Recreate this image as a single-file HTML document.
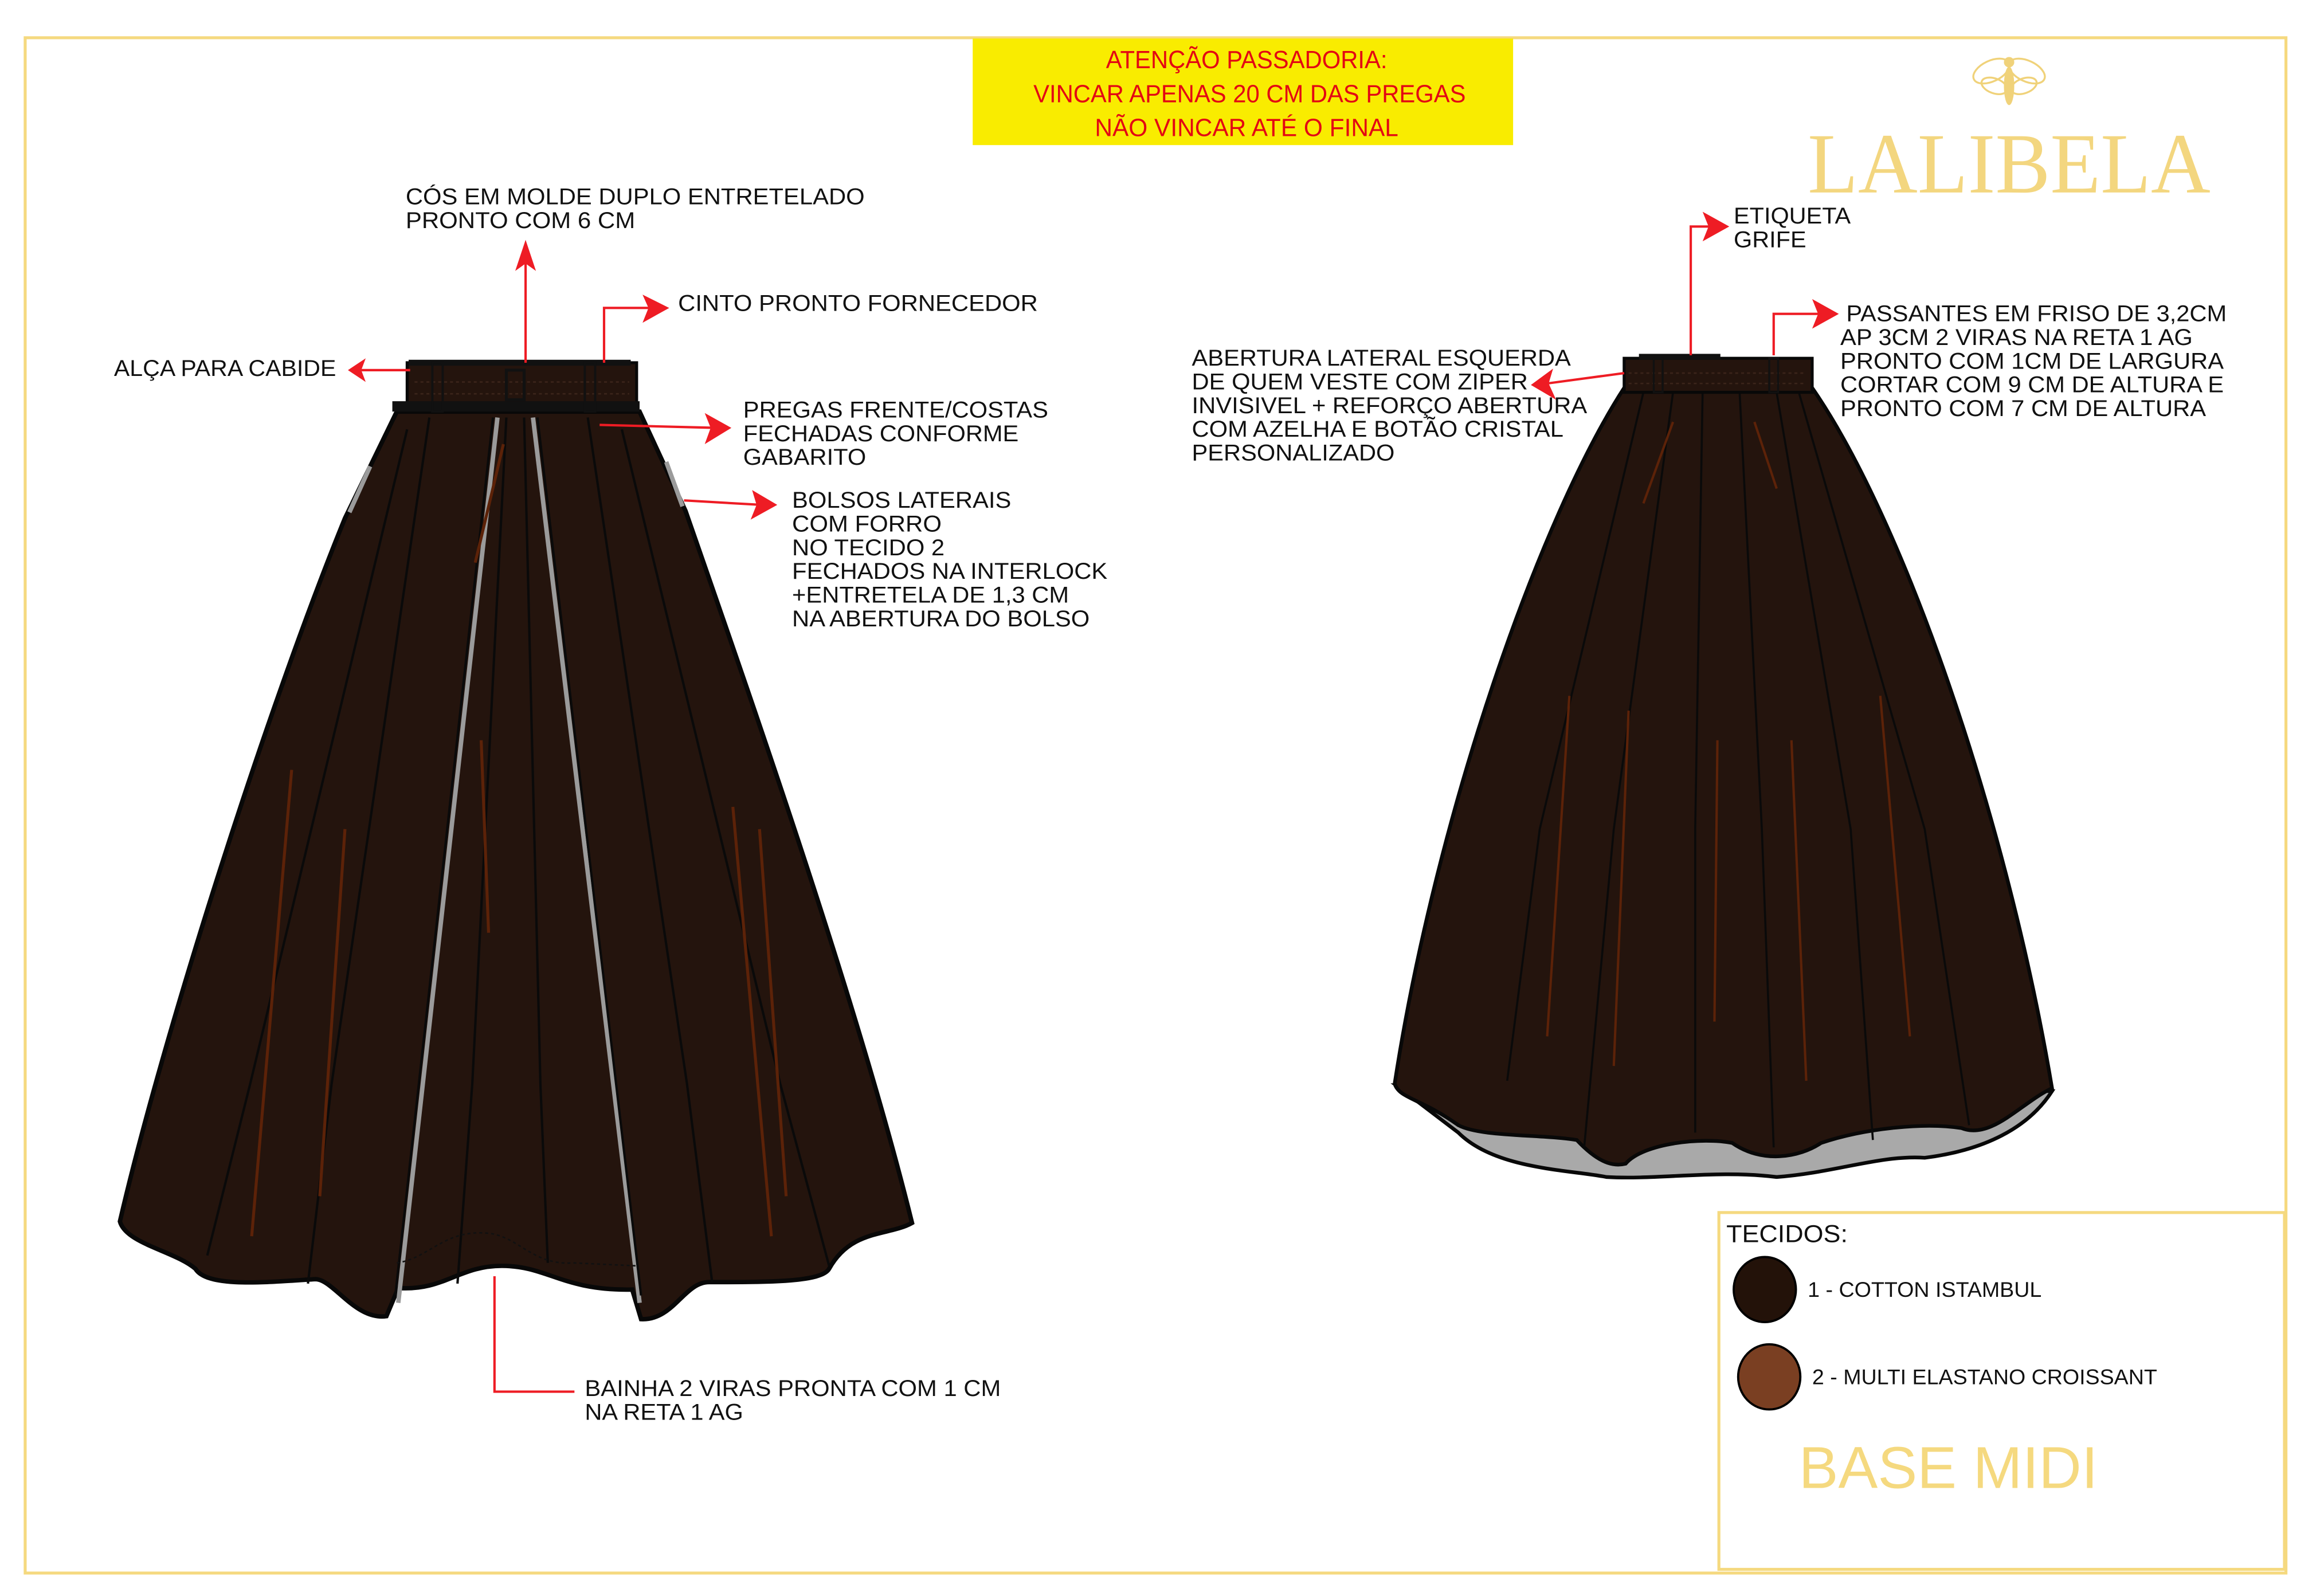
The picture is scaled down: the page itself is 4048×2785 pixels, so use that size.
<!DOCTYPE html>
<html><head><meta charset="utf-8"><style>html,body{margin:0;padding:0;background:#fff}svg{display:block}text{font-family:"Liberation Sans",sans-serif}</style></head>
<body>
<svg width="4048" height="2785" viewBox="0 0 1567 1078" preserveAspectRatio="none" xmlns="http://www.w3.org/2000/svg">
<rect x="0" y="0" width="1567" height="1078" fill="#fff"/>
<rect x="17" y="25.5" width="1527" height="1037" fill="none" stroke="#f5d97f" stroke-width="2"/>
<rect x="1161" y="819" width="382" height="241" fill="none" stroke="#f5d97f" stroke-width="2"/>
<!-- yellow box -->
<rect x="657" y="26" width="365" height="72" fill="#f9ec00"/>
<g fill="#e30613" font-size="17" text-anchor="middle">
<text x="842" y="46" textLength="190" lengthAdjust="spacingAndGlyphs">ATENÇÃO PASSADORIA:</text>
<text x="844" y="69" textLength="292" lengthAdjust="spacingAndGlyphs">VINCAR APENAS 20 CM DAS PREGAS</text>
<text x="842" y="92" textLength="205" lengthAdjust="spacingAndGlyphs">NÃO VINCAR ATÉ O FINAL</text>
</g>
<!-- logo -->
<g fill="none" stroke="#f0d27a" stroke-width="1.3">
<ellipse cx="1345" cy="48" rx="13" ry="7" transform="rotate(-25 1345 48)"/>
<ellipse cx="1369" cy="48" rx="13" ry="7" transform="rotate(25 1369 48)"/>
<ellipse cx="1347" cy="58" rx="9" ry="5" transform="rotate(20 1347 58)"/><ellipse cx="1367" cy="58" rx="9" ry="5" transform="rotate(-20 1367 58)"/>
</g>
<ellipse cx="1357" cy="58" rx="3.5" ry="13" fill="#f0d27a"/>
<circle cx="1357" cy="42" r="3.5" fill="#f0d27a"/>
<text x="1357" y="130" font-size="58" fill="#f3d67f" text-anchor="middle" textLength="272" lengthAdjust="spacingAndGlyphs" style="font-family:'Liberation Serif',serif">LALIBELA</text>

<!-- LEFT SKIRT -->
<path d="M268,278 L233,350 C180,480 110,700 81,825 C85,840 118,845 132,857 C140,870 180,866 213,864 C225,864 240,892 261,889 L269,870 C300,872 310,855 339,855 C370,855 380,872 427,871 L433,891 C455,892 462,866 479,866 C520,866 555,866 560,857 C575,830 600,835 616,826 C580,680 510,480 463,345 L432,278 Z" fill="#24140d" stroke="#080808" stroke-width="3"/>
<g stroke="#9b9b9b" stroke-width="3" fill="none">
<path d="M336,282 L269,880"/><path d="M360,282 L432,880"/>
<path d="M250,315 L236,346"/><path d="M450,312 L461,342"/>
</g>
<g stroke="#0a0a0a" stroke-width="1.6" fill="none">
<path d="M333,282 L267,875"/><path d="M363,282 L433,875"/>
<path d="M290,282 L224,732 L208,867"/><path d="M275,290 L169,732 L140,848"/>
<path d="M397,282 L464,732 L481,866"/><path d="M420,290 L527,732 L560,855"/>
<path d="M342,282 L319,732 L309,867"/><path d="M354,282 L365,732 L370,853"/>
</g>
<path d="M268,853 C290,850 300,830 330,833 C350,835 360,855 387,853 L430,855" fill="none" stroke="#111" stroke-width="1" stroke-dasharray="2,2"/>
<g stroke="#5c2208" stroke-width="2" fill="none">
<path d="M197,520 L170,835"/><path d="M233,560 L216,808"/><path d="M340,300 L321,380"/>
<path d="M495,545 L521,835"/><path d="M513,560 L531,808"/><path d="M325,500 L330,630"/>
</g>
<!-- waistband left -->
<rect x="275" y="245" width="155" height="33" fill="#24140d" stroke="#080808" stroke-width="2"/>
<rect x="265" y="271" width="167" height="7" fill="#111"/>
<rect x="276" y="243" width="150" height="4" fill="#111"/>
<path d="M280,258 H425 M280,266 H425" stroke="#3a241a" stroke-width="1" stroke-dasharray="2,2"/>
<rect x="292" y="245" width="7" height="33" fill="none" stroke="#111" stroke-width="1.5"/>
<rect x="395" y="245" width="7" height="33" fill="none" stroke="#111" stroke-width="1.5"/>
<rect x="342" y="250" width="12" height="20" fill="none" stroke="#111" stroke-width="2"/>

<!-- RIGHT SKIRT -->
<path d="M943,733 L985,765 C1010,790 1060,790 1085,795 C1120,797 1160,790 1200,795 C1240,792 1270,780 1300,782 C1340,777 1370,762 1386,737 Z" fill="#a9a9a9" stroke="#080808" stroke-width="2.5"/>
<path d="M1097,262 C1040,350 970,550 942,732 C945,742 960,742 985,760 C1000,768 1040,766 1065,770 C1080,786 1090,788 1098,786 C1110,772 1150,768 1170,772 C1190,786 1215,782 1230,772 C1260,762 1300,758 1325,762 C1345,770 1365,745 1386,735 C1355,550 1285,350 1224,262 Z" fill="#24140d" stroke="#080808" stroke-width="2.5"/>
<g stroke="#0a0a0a" stroke-width="1.4" fill="none">
<path d="M1110,265 L1040,560 L1018,730"/><path d="M1130,265 L1090,560 L1070,775"/>
<path d="M1150,265 L1145,560 L1145,765"/><path d="M1175,265 L1190,560 L1198,775"/>
<path d="M1200,265 L1250,560 L1265,770"/><path d="M1215,265 L1300,560 L1330,760"/>
</g>
<g stroke="#5c2208" stroke-width="1.6" fill="none">
<path d="M1130,285 L1110,340"/><path d="M1185,285 L1200,330"/><path d="M1060,470 L1045,700"/>
<path d="M1100,480 L1090,720"/><path d="M1270,470 L1290,700"/><path d="M1210,500 L1220,730"/><path d="M1160,500 L1158,690"/>
</g>
<rect x="1097" y="242" width="127" height="23" fill="#24140d" stroke="#080808" stroke-width="2"/>
<rect x="1107" y="239" width="55" height="4" fill="#111"/>
<path d="M1100,252 H1220 M1100,259 H1220" stroke="#3a241a" stroke-width="1" stroke-dasharray="2,2"/>
<rect x="1117" y="242" width="6" height="23" fill="none" stroke="#111" stroke-width="1.3"/>
<rect x="1195" y="242" width="6" height="23" fill="none" stroke="#111" stroke-width="1.3"/>

<!-- connectors -->
<g stroke="#ee1c24" stroke-width="1.6" fill="none">
<path d="M355,245 V172"/><path d="M408,245 V208 H442"/><path d="M277,250 H244"/>
<path d="M405,287 L484,289"/><path d="M462,338 L514,341"/>
<path d="M334,862 V940 H388"/>
<path d="M1142,240 V153 H1158"/><path d="M1198,240 V212 H1232"/>
<path d="M1097,252 L1045,259"/>
</g>
<g fill="#ee1c24">
<path d="M355,162 L348,183 L355,178 L362,183 Z"/>
<path d="M452,208 L434,199 L438,208 L434,218 Z"/>
<path d="M235,250 L247,242 L244,250 L247,258 Z"/>
<path d="M494,289 L476,279 L480,289 L476,300 Z"/>
<path d="M525,341 L508,331 L511,341 L507,351 Z"/>
<path d="M1168,153 L1150,143 L1154,153 L1150,163 Z"/>
<path d="M1242,212 L1224,202 L1228,212 L1224,222 Z"/>
<path d="M1034,260 L1049,249 L1046,259 L1051,270 Z"/>
</g>

<!-- labels -->
<g fill="#111" font-size="15.5">
<text x="274" y="138" textLength="310" lengthAdjust="spacingAndGlyphs">CÓS EM MOLDE DUPLO ENTRETELADO</text>
<text x="274" y="154" textLength="155" lengthAdjust="spacingAndGlyphs">PRONTO COM 6 CM</text>
<text x="458" y="210" textLength="243" lengthAdjust="spacingAndGlyphs">CINTO PRONTO FORNECEDOR</text>
<text x="77" y="254" textLength="150" lengthAdjust="spacingAndGlyphs">ALÇA PARA CABIDE</text>
<text x="502" y="282" textLength="206" lengthAdjust="spacingAndGlyphs">PREGAS FRENTE/COSTAS</text>
<text x="502" y="298" textLength="186" lengthAdjust="spacingAndGlyphs">FECHADAS CONFORME</text>
<text x="502" y="314" textLength="83" lengthAdjust="spacingAndGlyphs">GABARITO</text>
<text x="535" y="343" textLength="148" lengthAdjust="spacingAndGlyphs">BOLSOS LATERAIS</text>
<text x="535" y="359" textLength="101" lengthAdjust="spacingAndGlyphs">COM FORRO</text>
<text x="535" y="375" textLength="103" lengthAdjust="spacingAndGlyphs">NO TECIDO 2</text>
<text x="535" y="391" textLength="213" lengthAdjust="spacingAndGlyphs">FECHADOS NA INTERLOCK</text>
<text x="535" y="407" textLength="187" lengthAdjust="spacingAndGlyphs">+ENTRETELA DE 1,3 CM</text>
<text x="535" y="423" textLength="201" lengthAdjust="spacingAndGlyphs">NA ABERTURA DO BOLSO</text>
<text x="395" y="943" textLength="281" lengthAdjust="spacingAndGlyphs">BAINHA 2 VIRAS PRONTA COM 1 CM</text>
<text x="395" y="959" textLength="107" lengthAdjust="spacingAndGlyphs">NA RETA 1 AG</text>
<text x="1171" y="151" textLength="79" lengthAdjust="spacingAndGlyphs">ETIQUETA</text>
<text x="1171" y="167" textLength="49" lengthAdjust="spacingAndGlyphs">GRIFE</text>
<text x="1247" y="217" textLength="257" lengthAdjust="spacingAndGlyphs">PASSANTES EM FRISO DE 3,2CM</text>
<text x="1243" y="233" textLength="238" lengthAdjust="spacingAndGlyphs">AP 3CM 2 VIRAS NA RETA 1 AG</text>
<text x="1243" y="249" textLength="259" lengthAdjust="spacingAndGlyphs">PRONTO COM 1CM DE LARGURA</text>
<text x="1243" y="265" textLength="259" lengthAdjust="spacingAndGlyphs">CORTAR COM 9 CM DE ALTURA E</text>
<text x="1243" y="281" textLength="247" lengthAdjust="spacingAndGlyphs">PRONTO COM 7 CM DE ALTURA</text>
<text x="805" y="247" textLength="256" lengthAdjust="spacingAndGlyphs">ABERTURA LATERAL ESQUERDA</text>
<text x="805" y="263" textLength="227" lengthAdjust="spacingAndGlyphs">DE QUEM VESTE COM ZIPER</text>
<text x="805" y="279" textLength="267" lengthAdjust="spacingAndGlyphs">INVISIVEL + REFORÇO ABERTURA</text>
<text x="805" y="295" textLength="251" lengthAdjust="spacingAndGlyphs">COM AZELHA E BOTÃO CRISTAL</text>
<text x="805" y="311" textLength="137" lengthAdjust="spacingAndGlyphs">PERSONALIZADO</text>
</g>
<!-- tecidos -->
<text x="1166" y="839" font-size="16.5" fill="#111" textLength="82" lengthAdjust="spacingAndGlyphs">TECIDOS:</text>
<ellipse cx="1192" cy="871" rx="21" ry="22" fill="#231209" stroke="#000" stroke-width="1.5"/>
<ellipse cx="1195" cy="930" rx="21" ry="22" fill="#7a3f22" stroke="#000" stroke-width="1.5"/>
<text x="1221" y="876" font-size="14.5" fill="#111" textLength="158" lengthAdjust="spacingAndGlyphs">1 - COTTON ISTAMBUL</text>
<text x="1224" y="935" font-size="14.5" fill="#111" textLength="233" lengthAdjust="spacingAndGlyphs">2 - MULTI ELASTANO CROISSANT</text>
<text x="1215" y="1005" font-size="40" fill="#f5d97f" textLength="202" lengthAdjust="spacingAndGlyphs">BASE MIDI</text>
</svg>
</body></html>
